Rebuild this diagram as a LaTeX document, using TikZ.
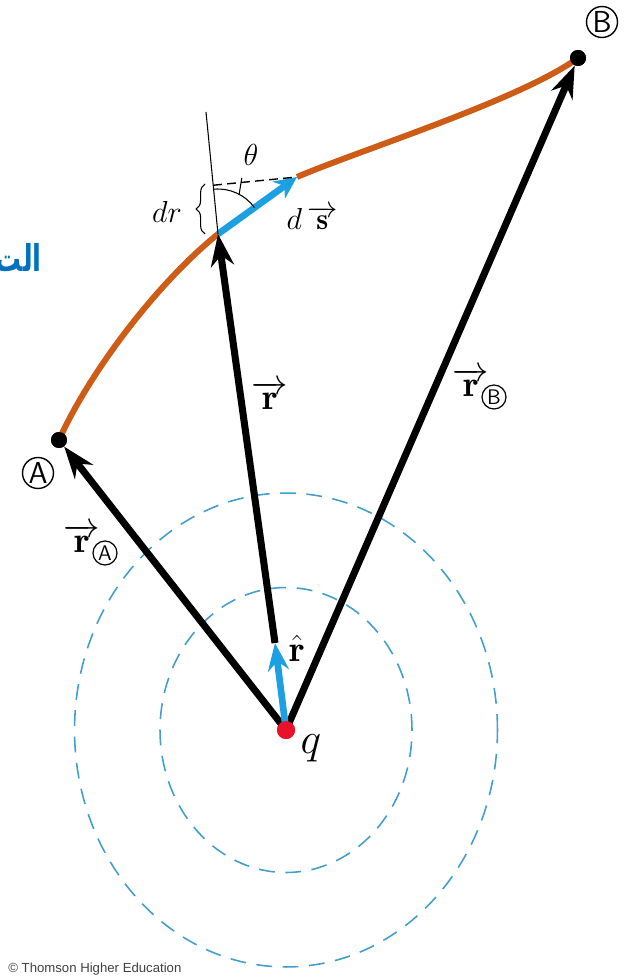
\documentclass[tikz,border=0pt]{standalone}
\usepackage{fontspec}
\usetikzlibrary{arrows.meta, calc, decorations.pathreplacing}

\newfontfamily\arabicfont[Script=Arabic]{DejaVu Sans}
\newfontfamily\notefont{Liberation Sans}
\TeXXeTstate=1

\definecolor{pathorange}{RGB}{204,92,22}
\definecolor{dsblue}{RGB}{28,160,226}
\definecolor{ringblue}{RGB}{66,158,205}
\definecolor{chargered}{RGB}{232,18,42}
\definecolor{titleblue}{RGB}{0,112,192}

\newcommand{\rvec}{\overrightarrow{\mathbf{r}}}

\tikzset{
  vecline/.style={line width=4pt, black,
    -{Stealth[length=0.64cm, width=0.46cm]}},
  unitline/.style={line width=3.8pt, dsblue,
    -{Stealth[length=0.55cm, width=0.42cm]}},
  pathline/.style={line width=3.4pt, pathorange},
  ringline/.style={ringblue, line width=0.9pt, dash pattern=on 9pt off 6pt},
  dotpt/.style={circle, fill=black, inner sep=0pt, minimum size=0.32cm},
  mathlbl/.style={font=\huge, inner sep=1pt},
  circmark/.style={circle, draw, line width=0.8pt, inner sep=0pt,
    minimum size=0.62cm, font=\sffamily\LARGE},
  submark/.style={circle, draw, line width=0.7pt, inner sep=0pt,
    minimum size=0.48cm, font=\sffamily\large},
}

\begin{document}
\begin{tikzpicture}[x=0.02cm, y=-0.02cm]

  \useasboundingbox (0,0) rectangle (625,979);

  % ================================================================
  % Points
  % ================================================================

  \node[circle, fill=chargered, inner sep=0pt, minimum size=0.36cm]
    (q) at (286,730) {};
  \node[dotpt] (ptA) at (59,440) {};
  \node[dotpt] (ptB) at (578,58) {};

  \coordinate (s1) at (218,234);
  \coordinate (s2) at (297,177);
  \coordinate (rhat) at (275,643);
  \coordinate (radtop) at (206,112);
  \coordinate (foot) at ($(s1)!(s2)!(radtop)$);

  % ================================================================
  % Equipotential rings (dashed)
  % ================================================================

  \draw[ringline] (q.center) ellipse [x radius=2.52cm, y radius=2.85cm];
  \draw[ringline] (q.center) ellipse [x radius=4.23cm, y radius=4.74cm];

  % ================================================================
  % Path from A to B, with the element ds
  % ================================================================

  \draw[pathline] (ptA.center) .. controls (88,375) and (155,285) .. (s1);
  \draw[pathline] (s2) .. controls (360,150) and (520,100) .. (ptB.center);
  \draw[line width=3.8pt, dsblue, -{Stealth[length=0.45cm, width=0.42cm]}]
    (s1) -- (s2);

  % --- radial line, perpendicular and angle ---
  \draw[line width=0.6pt] (s1) -- (radtop);
  \draw[line width=0.8pt, dash pattern=on 5pt off 3pt] (foot) -- (s2);
  \draw[line width=0.6pt] ($(s1)+(95:0.9cm)$) arc[start angle=95, end angle=36, radius=0.9cm];
  \draw[line width=0.6pt] ($(s1)+(62:0.9cm)$) -- ($(s1)+(67:1.22cm)$);
  \draw[decorate, decoration={brace, amplitude=5pt}, line width=0.6pt]
    (205,234) -- (205,184);

  % ================================================================
  % Position vectors
  % ================================================================

  \draw[vecline] (q.center) -- (ptA);
  \draw[vecline] (q.center) -- (ptB);
  \draw[vecline] (rhat) -- (s1);
  \draw[unitline] (q.center) -- (rhat);

  % redraw dots on top
  \node[dotpt] at (ptA) {};
  \node[dotpt] at (ptB) {};
  \node[circle, fill=chargered, inner sep=0pt, minimum size=0.36cm] at (q) {};

  % ================================================================
  % Labels
  % ================================================================

  \node[circmark] (lblA) at (38,473) {A};
  \node[circmark] (lblB) at (602,22) {B};
  \node[mathlbl] (lblr) at (270,395) {$\rvec$};
  \node[mathlbl] (lblrA) at (82,538) {$\rvec$};
  \node[submark] (subA) at (105,553) {A};
  \node[mathlbl] (lblrB) at (471,382) {$\rvec$};
  \node[submark] (subB) at (494,397) {B};
  \node[mathlbl] (lblrhat) at (297,648) {$\hat{\mathbf{r}}$};
  \node[font=\Huge, inner sep=1pt] (lblq) at (311,748) {$q$};
  \node[font=\LARGE, inner sep=1pt] (lbldr) at (167,212) {$dr$};
  \node[font=\LARGE, inner sep=1pt] (lbltheta) at (251,155) {$\theta$};
  \node[font=\LARGE, inner sep=1pt] (lblds) at (312,218) {$d\,\overrightarrow{\mathbf{s}}$};

  \node[anchor=east, text=titleblue, xscale=0.7,
    font=\fontsize{21}{23}\selectfont\bfseries, inner sep=0pt]
    (arabic) at (42,258) {\arabicfont\beginR الت\endR};

  \node[anchor=south west, text=black!75, font=\notefont\fontsize{7.5}{8}\selectfont, inner sep=0pt]
    (credit) at (8,976) {© Thomson Higher Education};

\end{tikzpicture}
\end{document}
